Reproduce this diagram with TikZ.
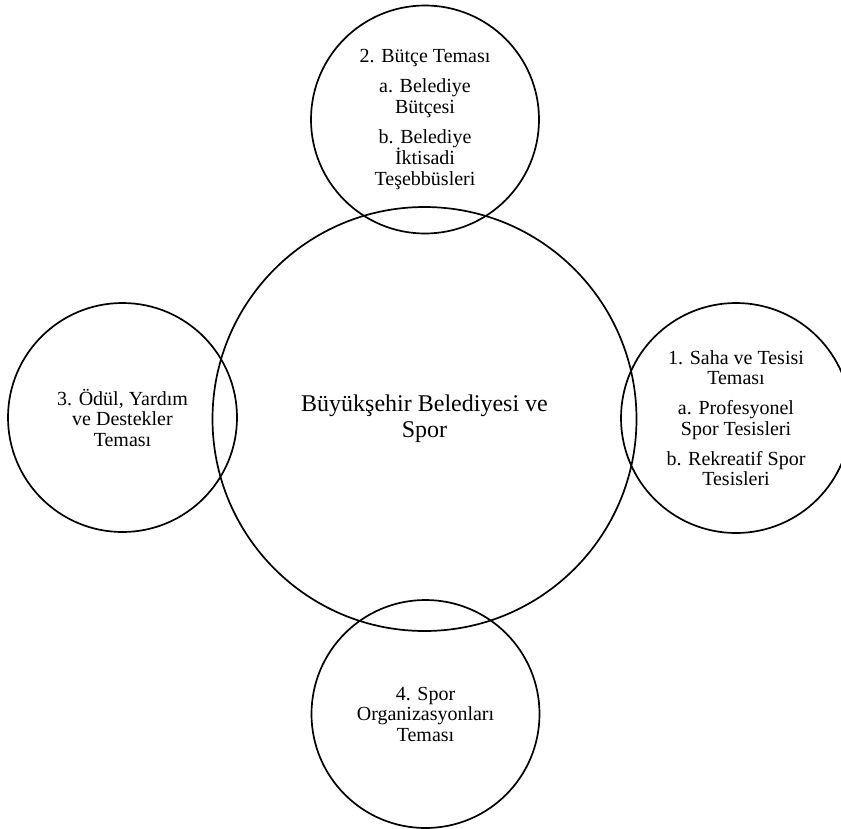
\documentclass[tikz,border=0pt]{standalone}
\usepackage{fontspec}
\setmainfont{Liberation Serif}
\begin{document}
\begin{tikzpicture}[x=1pt,y=-1pt,
  ring/.style={circle,draw=black,line width=1.7pt,inner sep=0pt,align=center,text=black},
  small/.style={font=\fontsize{20}{20.5}\selectfont},
  big/.style={font=\fontsize{24}{26}\selectfont}]
\fill[white] (0,0) rectangle (841,828);
\useasboundingbox (0,0) rectangle (841,828);
\node[ring,big,minimum size=424pt] (center) at (424.5,419) {Büyükşehir Belediyesi ve\\Spor};
\node[ring,small,minimum size=228pt] (top) at (425,119.5) {2. Bütçe Teması\\[9.5pt]a. Belediye\\Bütçesi\\[9.5pt]b. Belediye\\İktisadi\\Teşebbüsleri};
\node[ring,small,minimum size=229pt] (left) at (122.5,417.5) {3. Ödül, Yardım\\ve Destekler\\Teması};
\node[ring,small,minimum size=230pt] (right) at (736,418) {1. Saha ve Tesisi\\Teması\\[9.5pt]a. Profesyonel\\Spor Tesisleri\\[9.5pt]b. Rekreatif Spor\\Tesisleri};
\node[ring,small,minimum size=228pt] (bottom) at (425.5,714) {4. Spor\\Organizasyonları\\Teması};
\end{tikzpicture}
\end{document}
